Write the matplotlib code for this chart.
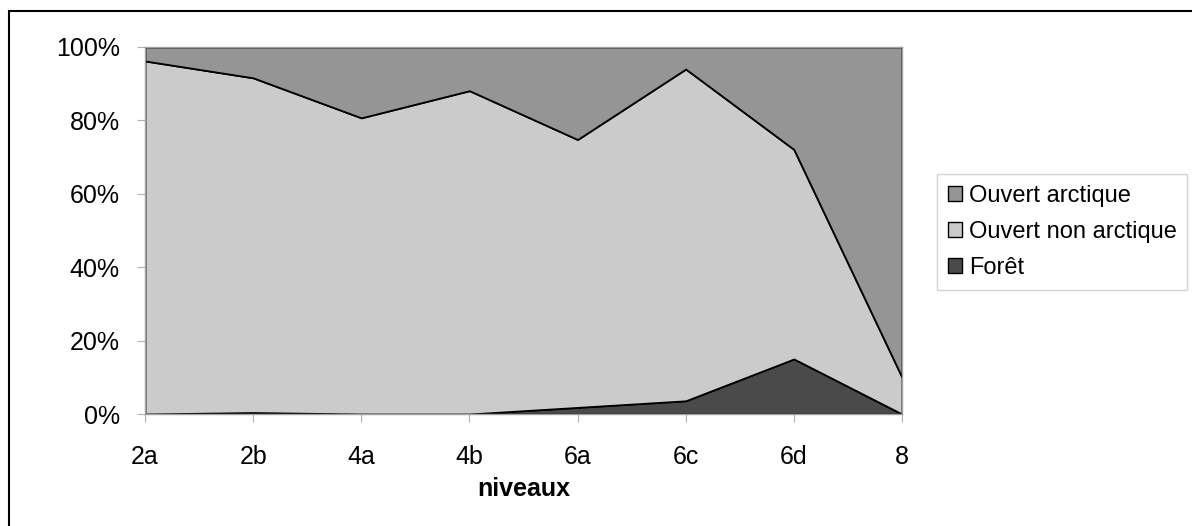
import matplotlib
matplotlib.use("Agg")
import matplotlib.pyplot as plt
from matplotlib.patches import Patch, Rectangle
from matplotlib.ticker import FuncFormatter

categories = ['2a', '2b', '4a', '4b', '6a', '6c', '6d', '8']
foret = [0.0, 0.4, 0.0, 0.0, 1.8, 3.6, 15.0, 0.0]
ouvert_non_arctique = [96.2, 91.2, 80.7, 88.1, 73.0, 90.4, 57.1, 10.0]
ouvert_arctique = [100 - f - o for f, o in zip(foret, ouvert_non_arctique)]

series_labels = ['Forêt', 'Ouvert non arctique', 'Ouvert arctique']
colors = ['#4a4a4a', '#cbcbcb', '#959595']

plt.rcParams['font.family'] = ['Liberation Sans', 'DejaVu Sans']

fig = plt.figure(figsize=(11.92, 5.26), dpi=100)
ax = fig.add_axes([145/1192, 1 - 414/526, (902 - 145)/1192, (414 - 47)/526])

x = list(range(len(categories)))
ax.stackplot(x, foret, ouvert_non_arctique, ouvert_arctique,
             colors=colors, edgecolor='black', linewidth=1.3)

ax.set_xlim(0, len(categories) - 1)
ax.set_ylim(0, 100)
ax.set_xticks(x)
ax.set_xticklabels(categories, fontsize=18)
ax.set_yticks([0, 20, 40, 60, 80, 100])
ax.yaxis.set_major_formatter(FuncFormatter(lambda v, p: f"{int(v)}%"))
ax.tick_params(axis='y', labelsize=18, length=6, color='#b0b0b0', pad=12)
ax.tick_params(axis='x', length=6, color='#b0b0b0', pad=16)
for s in ax.spines.values():
    s.set_color('#a0a0a0')
    s.set_linewidth(1)
ax.set_xlabel('niveaux', fontsize=18, fontweight='bold', labelpad=6)

handles = [Patch(facecolor=colors[2], edgecolor='black', label=series_labels[2]),
           Patch(facecolor=colors[1], edgecolor='black', label=series_labels[1]),
           Patch(facecolor=colors[0], edgecolor='black', label=series_labels[0])]
leg = fig.legend(handles=handles, loc='upper left', bbox_to_anchor=(937/1192, 1 - 174/526),
                 fontsize=17, frameon=True, fancybox=False, handlelength=0.6, handleheight=0.6,
                 handletextpad=0.3, borderpad=0.45, labelspacing=0.6, borderaxespad=0)
leg.get_frame().set_edgecolor('#c8c8c8')
leg.get_frame().set_linewidth(1)

fig.patches.append(Rectangle((9/1192, -0.05), 1.1, 1 - 11/526 + 0.05, transform=fig.transFigure,
                             fill=False, edgecolor='black', linewidth=1.5))

fig.savefig('out.png', dpi=100)
